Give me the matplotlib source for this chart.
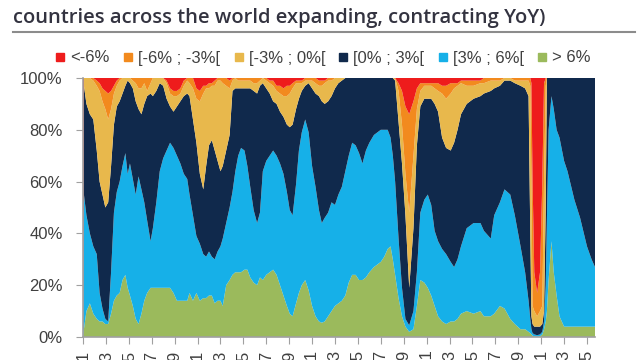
import matplotlib
matplotlib.use("Agg")
import matplotlib.pyplot as plt
from matplotlib.lines import Line2D
import numpy as np

# ── Data: upper edge (cumulative %) of each growth bucket ─────────────────
years = [
    1981.00, 1981.08, 1981.30, 1981.60, 1981.90, 1982.20, 1982.45, 1982.70, 1982.95, 1983.20,
    1983.45, 1983.70, 1983.95, 1984.20, 1984.45, 1984.70, 1984.90, 1985.10, 1985.35, 1985.60,
    1985.85, 1986.10, 1986.35, 1986.60, 1986.90, 1987.10, 1987.40, 1987.70, 1988.00, 1988.30,
    1988.60, 1988.90, 1989.20, 1989.50, 1989.80, 1990.10, 1990.30, 1990.60, 1990.90, 1991.20,
    1991.50, 1991.75, 1992.00, 1992.25, 1992.50, 1992.75, 1993.00, 1993.20, 1993.50, 1993.80,
    1994.05, 1994.30, 1994.55, 1994.80, 1995.10, 1995.35, 1995.60, 1995.90, 1996.20, 1996.45,
    1996.70, 1997.00, 1997.30, 1997.60, 1997.90, 1998.20, 1998.50, 1998.80, 1999.05, 1999.30,
    1999.60, 1999.85, 2000.10, 2000.40, 2000.70, 2001.00, 2001.30, 2001.60, 2001.85, 2002.10,
    2002.40, 2002.70, 2003.00, 2003.30, 2003.60, 2003.90, 2004.20, 2004.50, 2004.80, 2005.10,
    2005.40, 2005.70, 2006.00, 2006.40, 2006.70, 2007.00, 2007.30, 2007.60, 2007.85, 2008.05,
    2008.25, 2008.55, 2008.85, 2009.15, 2009.48, 2009.85, 2010.15, 2010.45, 2010.80, 2011.10,
    2011.40, 2011.70, 2012.00, 2012.35, 2012.70, 2013.10, 2013.40, 2013.70, 2014.00, 2014.50,
    2015.10, 2015.70, 2016.00, 2016.60, 2016.90, 2017.40, 2017.80, 2018.30, 2018.70, 2019.20,
    2019.60, 2019.90, 2020.05, 2020.15, 2020.25, 2020.40, 2020.65, 2020.90, 2021.10, 2021.25,
    2021.40, 2021.50, 2021.65, 2021.90, 2022.10, 2022.35, 2022.60, 2023.00, 2023.30, 2023.90,
    2024.40, 2025.00, 2025.40, 2025.70,
]

top_gt6 = [  # > 6%
    0, 3, 10, 13, 9, 7, 6, 6, 5, 5,
    9, 14, 16, 17, 22, 24, 19, 16, 12, 7,
    5, 9, 14, 17, 19, 19, 19, 19, 19, 19,
    19, 17, 14, 14, 14, 14, 17, 14, 17, 14,
    15, 15, 16, 16, 13, 14, 14, 12, 20, 22,
    24, 25, 25, 25, 26, 26, 23, 21, 20, 23,
    22, 24, 25, 26, 24, 20, 16, 12, 9, 8,
    13, 17, 20, 22, 18, 12, 8, 6, 5.5, 6,
    8, 10, 12, 13, 14, 16, 21, 24, 24, 22,
    22, 23, 25, 27, 28, 29, 31, 34, 35, 30,
    24, 15, 8, 4, 2, 3, 12, 22, 21, 19,
    16, 12, 8, 6, 5, 6, 6, 7, 9, 10,
    9, 10, 8, 8, 9, 12, 11, 7, 5, 3,
    3, 2, 1.5, 1, 0.5, 0.3, 0, 0.3, 1, 3,
    6, 10, 22, 37, 25, 16, 8, 4, 4, 4,
    4, 4, 4, 4,
]

top_3_6 = [  # [3% ; 6%[
    0, 55, 47, 40, 35, 32, 17, 11, 7, 6,
    25, 48, 56, 60, 66, 71, 63, 67, 61, 55,
    62, 57, 52, 45, 37, 42, 52, 64, 69, 72,
    75, 73, 70, 67, 63, 61, 55, 47, 39, 36,
    32, 31, 33, 31, 30, 33, 35, 38, 44, 50,
    56, 64, 70, 73, 72, 66, 58, 49, 44, 48,
    64, 68, 70, 72, 70, 67, 63, 56, 49, 47,
    59, 72, 79, 84, 79, 66, 58, 49, 44, 46,
    48, 52, 51, 55, 58, 64, 70, 75, 74, 71,
    67, 72, 75, 78, 79, 80, 80, 80, 77, 70,
    60, 38, 19, 7, 4.5, 10, 25, 48, 53, 55,
    51, 41, 37, 34, 32, 29, 27, 30, 35, 42,
    44, 44, 41, 38, 47, 52, 57, 55, 47, 35,
    25, 14, 7, 3, 1.5, 1, 0.7, 1, 2, 6,
    20, 45, 80, 93, 88, 80, 77, 68, 64, 53,
    46, 35, 30, 27,
]

top_0_3 = [  # [0% ; 3%[
    0, 97, 90, 86, 84, 72, 60, 55, 50, 52,
    66, 82, 89, 91, 94, 97, 99, 98, 96, 91,
    88, 86, 90, 93, 94, 93, 95, 98, 97, 92,
    89, 87, 89, 91, 93, 94, 93, 84, 75, 63,
    57, 66, 74, 76, 72, 68, 64, 66, 72, 78,
    95, 96, 96, 96, 96, 96, 96, 95, 94, 97,
    98, 96, 94, 91, 90, 87, 85, 82, 81, 82,
    88, 92, 95, 97, 98, 96, 94, 93, 91, 90,
    91, 93, 96, 98, 99, 100, 100, 100, 100, 100,
    100, 100, 100, 100, 100, 100, 100, 100, 100, 100,
    99, 83, 67, 47, 19, 42, 74, 89, 92, 92,
    92, 90, 87, 77, 73, 72, 75, 80, 86, 90,
    92, 93, 94, 95, 96, 97, 99, 99, 98, 97,
    96, 93, 40, 8, 5, 4, 4, 4, 5, 10,
    50, 100, 100, 100, 100, 100, 100, 100, 100, 100,
    100, 100, 100, 100,
]

top_m3_0 = [  # [-3% ; 0%[
    0, 100, 100, 100, 99, 97, 95, 91, 88, 84,
    88, 94, 97, 99, 100, 100, 100, 100, 99, 98,
    96, 96, 98, 95, 98, 100, 100, 100, 100, 98,
    94, 93, 93, 94, 97, 99, 98, 96, 92, 91,
    94, 96, 96, 97, 97, 99, 99, 98, 97, 96,
    99, 100, 99, 99, 99, 99, 99, 98, 98, 99,
    100, 99, 98, 97, 95, 94, 93, 93, 94, 96,
    98, 98, 98, 99, 99, 99, 98, 97, 97, 98,
    99, 99, 100, 100, 100, 100, 100, 100, 100, 100,
    100, 100, 100, 100, 100, 100, 100, 100, 100, 100,
    100, 95, 82, 63, 48, 70, 88, 95, 97, 97,
    97, 96, 95, 94, 92, 94, 96, 97, 98, 97,
    97, 98, 98, 99, 99, 99, 100, 100, 99, 99,
    99, 99, 97, 60, 12, 10, 8, 10, 12, 60,
    97, 100, 100, 100, 100, 100, 100, 100, 100, 100,
    100, 100, 100, 100,
]

top_m6_m3 = [  # [-6% ; -3%[   (above it: < -6%)
    0, 100, 100, 100, 100, 99, 98, 96, 95, 94,
    95, 97, 99, 100, 100, 100, 100, 100, 100, 100,
    100, 100, 100, 100, 100, 100, 100, 100, 100, 99,
    96, 95, 95, 96, 99, 100, 100, 100, 96, 95,
    97, 97, 98, 98, 99, 100, 100, 100, 100, 99,
    100, 100, 100, 100, 100, 100, 100, 100, 100, 100,
    100, 100, 99, 99, 97, 97, 96, 97, 97, 98,
    99, 99, 99, 100, 100, 100, 100, 99, 99, 99,
    100, 100, 100, 100, 100, 100, 100, 100, 100, 100,
    100, 100, 100, 100, 100, 100, 100, 100, 100, 100,
    100, 98, 95, 89, 86, 91, 96, 98, 98, 98,
    98, 98, 98, 97, 97, 98, 98, 98, 99, 99,
    99, 99, 100, 100, 100, 100, 100, 100, 100, 100,
    100, 100, 100, 98, 60, 25, 17, 25, 60, 98,
    100, 100, 100, 100, 100, 100, 100, 100, 100, 100,
    100, 100, 100, 100,
]

labels = ["<-6%", "[-6% ; -3%[", "[-3% ; 0%[", "[0% ; 3%[", "[3% ; 6%[", "> 6%"]
colors = ["#EE1C1C", "#F28A1E", "#E8B84C", "#10294C", "#16B0E8", "#9BBA5C"]
tick_years = list(range(1981, 2026, 2))

# ── Shares per bucket ──────────────────────────────────────────────────────
x = np.array(years)
edges = np.vstack([np.zeros(len(x)), top_gt6, top_3_6, top_0_3,
                   top_m3_0, top_m6_m3, np.full(len(x), 100.0)])
shares = np.diff(edges, axis=0)          # bottom -> top: >6%, ..., <-6%
stack_colors = colors[::-1]

fig = plt.figure(figsize=(6.4, 3.6), dpi=100)
ax = fig.add_axes([83 / 640, 23 / 360, 512 / 640, 259 / 360])

ax.stackplot(x, shares, colors=stack_colors, linewidth=0, edgecolor="none")

ax.set_xlim(1981, 2025.7)
ax.set_ylim(0, 100)
ax.set_yticks(range(0, 101, 20))
ax.set_yticklabels([f"{v}%" for v in range(0, 101, 20)],
                   fontsize=12, color="#404040", family="Liberation Sans")
ax.set_xticks(tick_years)
ax.set_xticklabels([str(y) for y in tick_years], rotation=90,
                   fontsize=12, color="#404040", family="Liberation Sans")
ax.tick_params(axis="y", direction="out", length=5, color="#A0A0A0", pad=9.5)
ax.tick_params(axis="x", direction="out", length=5, color="#A0A0A0", pad=4)
for side in ["top", "right"]:
    ax.spines[side].set_visible(False)
for side in ["left", "bottom"]:
    ax.spines[side].set_color("#A0A0A0")
    ax.spines[side].set_linewidth(1.2)

# ── Title + rule ───────────────────────────────────────────────────────────
fig.text(13 / 640, 1 - 18 / 360,
         "countries across the world expanding, contracting YoY)",
         fontsize=14.5, fontweight="semibold", family="Open Sans",
         color="#333340", va="center", ha="left")
fig.add_artist(Line2D([13 / 640, 635 / 640], [1 - 32 / 360, 1 - 32 / 360],
                      color="#8C8C8C", linewidth=1.5))

# ── Legend ─────────────────────────────────────────────────────────────────
handles = [Line2D([], [], marker="s", linestyle="none", markersize=6,
                  markerfacecolor=c, markeredgecolor=c) for c in colors]
fig.legend(handles, labels, loc="center", bbox_to_anchor=(323 / 640, 1 - 58 / 360),
           ncol=6, frameon=False, handlelength=0.6, handletextpad=0.3,
           columnspacing=0.8, prop={"family": "Liberation Sans", "size": 12},
           labelcolor="#404040")

fig.savefig("out.png", dpi=100)
plt.close(fig)
